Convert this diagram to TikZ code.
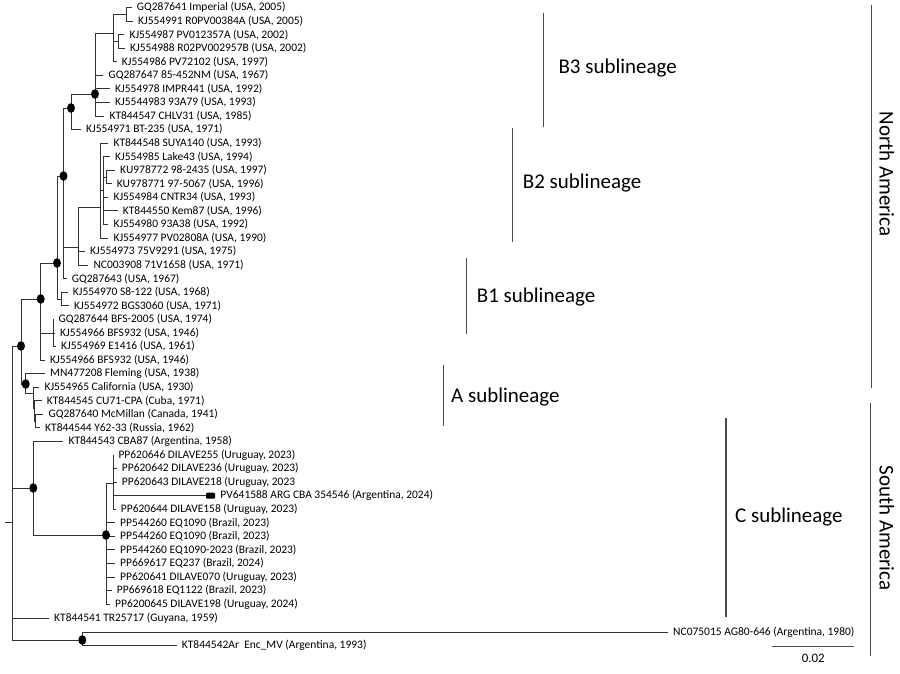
\documentclass[tikz,border=0pt]{standalone}
\usepackage{fontspec}
\setmainfont{Carlito}
\usetikzlibrary{positioning}

\begin{document}
\begin{tikzpicture}[x=0.03cm, y=-0.03cm,
    branch/.style={line width=0.75pt, black!80},
    leaf/.style={anchor=west, inner xsep=0.15cm, inner ysep=1pt, font=\fontsize{9.8}{11}\selectfont},
    tipmark/.style={fill=black, rounded corners=1pt, minimum width=0.27cm, minimum height=0.18cm, inner sep=0pt},
    bar/.style={line width=0.9pt, black!70},
    clade/.style={anchor=west, inner sep=0pt, font=\fontsize{17.9}{20}\selectfont},
    region/.style={rotate=-90, inner sep=0pt, font=\fontsize{17.9}{20}\selectfont}]

    \useasboundingbox (0,0) rectangle (900,673);

    % Internal nodes
    \coordinate (nRoot) at (12.5,522);
    \coordinate (rootstub) at (4.5,522);
    \coordinate (nNA) at (21,346);
    \coordinate (nB) at (40.7,299);
    \coordinate (nP) at (57,263);
    \coordinate (nQ) at (63.5,176);
    \coordinate (nB3) at (71,108);
    \coordinate (nS) at (95,94);
    \coordinate (nT) at (113.3,33);
    \coordinate (nU) at (126,14.3);
    \coordinate (nV) at (118,41.4);
    \coordinate (nR) at (78,247);
    \coordinate (nB2) at (100,207);
    \coordinate (nB2a) at (103.3,190);
    \coordinate (nKU) at (106.5,177);
    \coordinate (nS8) at (61.5,299);
    \coordinate (nBFS) at (53,333);
    \coordinate (nA) at (25.7,384);
    \coordinate (nA2) at (33.3,393);
    \coordinate (nA3) at (34.5,408);
    \coordinate (nA4) at (35,421);
    \coordinate (nSA) at (33.3,488);
    \coordinate (nC) at (106,535);
    \coordinate (nC1) at (113.3,483);
    \coordinate (nZ) at (12.5,628);
    \coordinate (nW) at (82.3,640);

    % Leaves
    \foreach \i/\x/\t in {
        1/131.7/{GQ287641 Imperial (USA, 2005)},
        2/133/{KJ554991 R0PV00384A (USA, 2005)},
        3/124.3/{KJ554987 PV012357A (USA, 2002)},
        4/125/{KJ554988 R02PV002957B (USA, 2002)},
        5/116.7/{KJ554986 PV72102 (USA, 1997)},
        6/103.3/{GQ287647 85-452NM (USA, 1967)},
        7/110/{KJ554978 IMPR441 (USA, 1992)},
        8/110/{KJ5544983 93A79 (USA, 1993)},
        9/104.3/{KT844547 CHLV31 (USA, 1985)},
        10/81/{KJ554971 BT-235 (USA, 1971)},
        11/108.3/{KT844548 SUYA140 (USA, 1993)},
        12/110/{KJ554985 Lake43 (USA, 1994)},
        13/115/{KU978772 98-2435 (USA, 1997)},
        14/111.7/{KU978771 97-5067 (USA, 1996)},
        15/108.3/{KJ554984 CNTR34 (USA, 1993)},
        16/117.7/{KT844550 Kem87 (USA, 1996)},
        17/108.3/{KJ554980 93A38 (USA, 1992)},
        18/108.3/{KJ554977 PV02808A (USA, 1990)},
        19/85/{KJ554973 75V9291 (USA, 1975)},
        20/88.3/{NC003908 71V1658 (USA, 1971)},
        21/66.7/{GQ287643 (USA, 1967)},
        22/67.7/{KJ554970 S8-122 (USA, 1968)},
        23/69/{KJ554972 BGS3060 (USA, 1971)},
        24/53.3/{GQ287644 BFS-2005 (USA, 1974)},
        25/55/{KJ554966 BFS932 (USA, 1946)},
        26/56/{KJ554969 E1416 (USA, 1961)},
        27/45/{KJ554966 BFS932 (USA, 1946)},
        28/45/{MN477208 Fleming (USA, 1938)},
        29/39.3/{KJ554965 California (USA, 1930)},
        30/41.7/{KT844545 CU71-CPA (Cuba, 1971)},
        31/43.3/{GQ287640 McMillan (Canada, 1941)},
        32/40/{KT844544 Y62-33 (Russia, 1962)},
        33/63.3/{KT844543 CBA87 (Argentina, 1958)},
        34/113.3/{PP620646 DILAVE255 (Uruguay, 2023)},
        35/116.7/{PP620642 DILAVE236 (Uruguay, 2023)},
        36/116.7/{PP620643 DILAVE218 (Uruguay, 2023},
        38/115.7/{PP620644 DILAVE158 (Uruguay, 2023)},
        39/115/{PP544260 EQ1090 (Brazil, 2023)},
        40/115/{PP544260 EQ1090 (Brazil, 2023)},
        41/115/{PP544260 EQ1090-2023 (Brazil, 2023)},
        42/115/{PP669617 EQ237 (Brazil, 2024)},
        43/115/{PP620641 DILAVE070 (Uruguay, 2023)},
        44/111.7/{PP669618 EQ1122 (Brazil, 2023)},
        45/110/{PP6200645 DILAVE198 (Uruguay, 2024)}}
        \node[leaf] (l\i) at (\x,{7.5+13.56*(\i-1)}) {\t};

    \node[tipmark] (m37) at (210.5,495.7) {};
    \node[leaf, right=0pt of m37] (l37) {PV641588 ARG CBA 354546 (Argentina, 2024)};
    \node[leaf] (l46) at (49,618) {KT844541 TR25717 (Guyana, 1959)};
    \node[leaf] (l47) at (668,632.7) {NC075015 AG80-646 (Argentina, 1980)};
    \node[leaf] (l48) at (176.7,645.7) {KT844542Ar\ \ Enc\_MV (Argentina, 1993)};

    % Branches
    \draw[branch] (nRoot) -- (rootstub);
    \foreach \p/\c in {nRoot/nNA, nRoot/nSA, nRoot/nZ,
        nNA/nB, nNA/nA,
        nB/nP, nB/nBFS, nB/l27,
        nP/nQ, nP/nS8,
        nQ/nB3, nQ/nR, nQ/l21,
        nB3/nS, nB3/l10,
        nS/nT, nS/l6, nS/l7, nS/l8, nS/l9,
        nT/nU, nT/nV, nT/l5,
        nU/l1, nU/l2, nV/l3, nV/l4,
        nR/nB2, nR/l19, nR/l20,
        nB2/l11, nB2/nB2a, nB2/l18,
        nB2a/l12, nB2a/nKU, nB2a/l15, nB2a/l16, nB2a/l17,
        nKU/l13, nKU/l14,
        nS8/l22, nS8/l23,
        nBFS/l24, nBFS/l25, nBFS/l26,
        nA/l28, nA/nA2, nA2/l29, nA2/nA3, nA3/l30, nA3/nA4, nA4/l31, nA4/l32,
        nSA/l33, nSA/nC,
        nC/nC1, nC/l39, nC/l40, nC/l41, nC/l42, nC/l43, nC/l44, nC/l45,
        nC1/l34, nC1/l35, nC1/l36, nC1/m37, nC1/l38,
        nZ/l46, nZ/nW,
        nW/l47, nW/l48}
        \draw[branch] (\p) |- (\c);

    % Supported nodes
    \foreach \n in {nNA,nB,nP,nQ,nB3,nS,nA,nSA,nC,nW}
        \fill[black] (\n) ellipse [x radius=4, y radius=4.8];

    % Sublineages
    \draw[bar] (543.3,13) -- (543.3,127);
    \node[clade] (subB3) at (558.3,68.3) {B3 sublineage};
    \draw[bar] (512.7,128) -- (512.7,242);
    \node[clade] (subB2) at (522.7,182.7) {B2 sublineage};
    \draw[bar] (466.7,258) -- (466.7,334);
    \node[clade] (subB1) at (476.7,296.7) {B1 sublineage};
    \draw[bar] (443.3,365) -- (443.3,426);
    \node[clade] (subA) at (451,396.7) {A sublineage};
    \draw[bar] (726,418) -- (726,617);
    \node[clade] (subC) at (735,517) {C sublineage};

    % Regions
    \draw[bar] (871.7,5) -- (871.7,388);
    \node[region] (north) at (886.7,174) {North America};
    \draw[bar] (870.7,403) -- (870.7,656);
    \node[region] (south) at (886.7,528) {South America};

    % Scale
    \draw[bar] (772.3,646.7) -- (854,646.7);
    \node[font=\fontsize{11}{12}\selectfont] (scale) at (813.3,658.3) {0.02};
\end{tikzpicture}
\end{document}
